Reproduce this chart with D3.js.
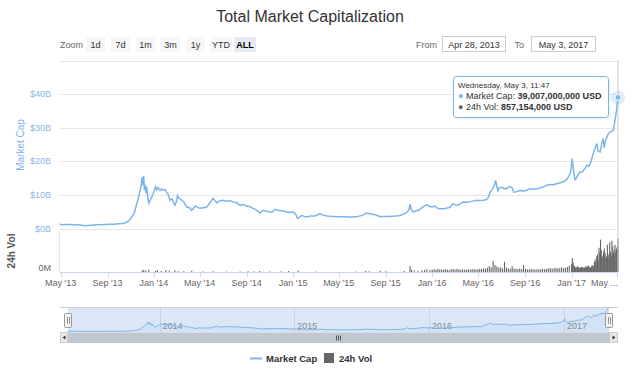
<!DOCTYPE html>
<html><head><meta charset="utf-8">
<script src="https://cdn.jsdelivr.net/npm/d3@7"></script>
<style>
body{margin:0;background:#fff;}
svg{display:block;font-family:"Liberation Sans",Arial,sans-serif;}
</style></head>
<body><svg id="c" width="640" height="368"></svg>
<script>
const title = "Total Market Capitalization";
const zoomButtons = ["1d","7d","1m","3m","1y","YTD","ALL"];
const yTickValues = [0,10,20,30,40];
const yTickLabels = ["$0B","$10B","$20B","$30B","$40B"];
const xTickLabels = ["May '13","Sep '13","Jan '14","May '14","Sep '14","Jan '15","May '15","Sep '15","Jan '16","May '16","Sep '16","Jan '17","May ..."];
const navYearLabels = ["2014","2015","2016","2017"];
const legendLabels = ["Market Cap","24h Vol"];

// Market cap (billions USD)
const capDates = ["2013-04-28","2013-05-06","2013-05-15","2013-05-25","2013-06-05","2013-06-15","2013-06-25","2013-07-04","2013-07-12","2013-07-22","2013-08-01","2013-08-12","2013-08-25","2013-09-05","2013-09-21","2013-10-01","2013-10-12","2013-10-20","2013-10-28","2013-11-04","2013-11-10","2013-11-17","2013-11-21","2013-11-25","2013-11-29","2013-12-01","2013-12-03","2013-12-05","2013-12-07","2013-12-09","2013-12-11","2013-12-13","2013-12-16","2013-12-19","2013-12-22","2013-12-26","2013-12-30","2014-01-05","2014-01-08","2014-01-12","2014-01-17","2014-01-21","2014-01-25","2014-01-30","2014-02-03","2014-02-07","2014-02-12","2014-02-17","2014-02-21","2014-02-25","2014-03-01","2014-03-04","2014-03-08","2014-03-15","2014-03-21","2014-03-28","2014-04-04","2014-04-10","2014-04-15","2014-04-19","2014-04-25","2014-05-02","2014-05-10","2014-05-19","2014-05-27","2014-06-05","2014-06-10","2014-06-15","2014-06-22","2014-07-01","2014-07-10","2014-07-18","2014-07-27","2014-08-05","2014-08-15","2014-08-22","2014-09-01","2014-09-10","2014-09-18","2014-09-25","2014-10-06","2014-10-14","2014-10-22","2014-11-02","2014-11-08","2014-11-15","2014-11-22","2014-12-06","2014-12-15","2014-12-22","2015-01-01","2015-01-08","2015-01-13","2015-01-18","2015-01-24","2015-01-30","2015-02-06","2015-02-15","2015-02-28","2015-03-06","2015-03-13","2015-03-22","2015-04-01","2015-04-16","2015-05-01","2015-05-15","2015-06-01","2015-06-07","2015-06-20","2015-07-01","2015-07-13","2015-07-25","2015-08-05","2015-08-18","2015-08-25","2015-09-10","2015-09-25","2015-10-05","2015-10-17","2015-10-26","2015-11-01","2015-11-04","2015-11-08","2015-11-12","2015-11-20","2015-11-28","2015-12-05","2015-12-10","2015-12-18","2015-12-26","2016-01-03","2016-01-09","2016-01-15","2016-01-22","2016-02-01","2016-02-10","2016-02-18","2016-02-25","2016-03-05","2016-03-12","2016-03-22","2016-04-01","2016-04-12","2016-04-27","2016-05-05","2016-05-15","2016-05-23","2016-05-28","2016-06-01","2016-06-08","2016-06-13","2016-06-16","2016-06-19","2016-06-22","2016-06-25","2016-07-02","2016-07-08","2016-07-15","2016-07-24","2016-07-30","2016-08-02","2016-08-08","2016-08-19","2016-08-28","2016-09-05","2016-09-14","2016-09-25","2016-10-05","2016-10-10","2016-10-20","2016-10-28","2016-11-06","2016-11-15","2016-11-25","2016-12-05","2016-12-12","2016-12-19","2016-12-25","2016-12-30","2017-01-03","2017-01-06","2017-01-10","2017-01-13","2017-01-18","2017-01-23","2017-01-30","2017-02-05","2017-02-10","2017-02-15","2017-02-20","2017-02-27","2017-03-03","2017-03-08","2017-03-12","2017-03-17","2017-03-20","2017-03-25","2017-03-28","2017-04-01","2017-04-08","2017-04-14","2017-04-21","2017-04-25","2017-04-29","2017-05-03"];
const capValues = [1.3,1.1,1.2,1.2,1.1,1.1,1.0,0.8,0.9,1.0,1.1,1.1,1.2,1.3,1.3,1.4,1.5,1.8,2.4,3.5,4.5,7.5,9.0,11.0,13.5,15.3,12.8,15.6,11.5,13.0,10.5,12.5,9.0,7.5,8.5,9.3,10.5,12.5,11.5,12.2,11.3,11.8,11.4,11.6,10.8,10.2,8.4,8.8,7.8,6.9,8.0,9.8,9.0,8.4,7.8,6.4,6.2,5.4,6.0,6.7,6.3,6.0,6.2,6.3,7.5,9.0,8.3,7.6,8.2,8.4,8.1,8.3,7.9,7.8,6.9,7.1,6.7,6.5,6.0,5.6,4.6,5.4,5.1,4.9,5.0,5.7,5.4,5.2,4.9,4.8,4.9,4.3,3.0,3.3,3.9,3.6,3.4,3.7,3.7,4.1,4.4,3.9,3.7,3.6,3.5,3.5,3.4,3.4,3.6,3.9,4.6,4.3,4.1,3.5,3.6,3.6,3.7,3.8,4.2,4.8,5.4,7.2,5.5,4.9,5.3,5.5,6.2,6.6,7.1,6.5,6.5,6.7,6.0,5.9,5.9,6.1,6.4,7.4,6.9,7.1,7.9,7.8,8.0,8.4,8.3,8.4,8.6,9.4,10.8,11.8,13.0,14.3,12.5,11.2,12.0,12.3,11.8,12.0,12.5,12.0,10.8,10.9,11.3,11.2,11.4,11.8,11.7,11.9,12.1,12.4,12.9,13.1,13.0,13.4,13.7,14.0,14.5,15.5,17.0,20.8,17.5,14.5,14.8,16.0,16.8,16.9,17.8,18.8,18.5,19.5,22.3,23.5,25.3,23.0,22.8,24.5,26.8,24.0,26.5,28.3,28.8,29.3,32.2,35.0,39.0];

// 24h volume (millions USD), sparse early period
const volDatesEarly = ["2013-12-01","2013-12-05","2013-12-10","2013-12-18","2014-01-05","2014-01-10","2014-01-20","2014-02-01","2014-02-10","2014-02-25","2014-03-05","2014-03-20","2014-04-10","2014-05-10","2014-06-05","2014-07-10","2014-08-15","2014-09-05","2014-09-20","2014-10-05","2014-11-01","2014-12-01","2014-12-20","2015-01-14","2015-03-01","2015-06-15","2015-07-10","2015-07-20","2015-08-18","2015-09-01","2015-10-20","2015-11-04","2015-11-08","2015-11-15","2015-11-25","2015-12-05","2015-12-12","2015-12-18","2015-12-26"];
const volValuesEarly = [40,55,35,60,30,45,25,50,35,40,25,20,30,15,20,12,15,20,15,25,15,20,25,35,15,15,25,20,30,20,25,150,60,40,30,45,55,70,50];
// 2016, one bar every 5 days from Jan 1 2016
const vol2016Start = "2016-01-01";
const vol2016Values = [60,70,55,80,65,60, 55,70,60,50,65,75, 60,80,70,55,65,60, 55,70,60,65,75,60, 70,80,75,90,85,110, 150,120,280,180,140,110, 120,90,260,110,95,80, 150,90,80,75,85,70, 180,80,70,65,75,70, 60,70,65,75,80,70, 80,90,100,85,95,110, 90,100,120,95,110,130,160];
// 2017, one bar every 2 days from Jan 1 2017
const vol2017Start = "2017-01-01";
const vol2017Values = [200,360,250,180,140,120,110,130,150,120,110,100,120,130,110,125, 100,110,130,150,120,140,170,130,120,110,140,180,160,150, 260,320,250,400,450,300,620,500,830,560,420,380,520,600,480, 350,400,700,450,380,760,520,420,800,650,480,560,700,520,600, 650,857];

const parse = d3.utcParse("%Y-%m-%d");
const cap = capDates.map((d,i)=>({date:parse(d), v:capValues[i]}));
const vol = [];
volDatesEarly.forEach((d,i)=>vol.push({date:parse(d), v:volValuesEarly[i]}));
vol2016Values.forEach((v,i)=>vol.push({date:d3.utcDay.offset(parse(vol2016Start), i*5), v}));
vol2017Values.forEach((v,i)=>vol.push({date:d3.utcDay.offset(parse(vol2017Start), i*2), v}));

const svg = d3.select("#c");
const BLUE = "#7cb5ec";
const L = 59.5, R = 618;
const x = d3.scaleUtc().domain([parse("2013-04-28"), parse("2017-05-03")]).range([L, R]);
const y = d3.scaleLinear().domain([0,50]).range([228.5, 60.5]);
const yv = d3.scaleLinear().domain([0,1050]).range([272, 231]);

// title
svg.append("text").attr("x",310).attr("y",22).attr("text-anchor","middle")
  .attr("font-size",16).attr("fill","#333").text(title);

// range selector
svg.append("text").attr("x",60).attr("y",48).attr("font-size",9).attr("fill","#666").text("Zoom");
const btnX = [86,111,136,161,186,210,234];
const btnW = [19,19,19,19,19,22,22];
zoomButtons.forEach((b,i)=>{
  const g = svg.append("g");
  const sel = b==="ALL";
  g.append("rect").attr("x",btnX[i]).attr("y",37).attr("width",btnW[i]).attr("height",15)
    .attr("fill", sel ? "#e6ebf5" : "#f7f7f7");
  g.append("text").attr("x",btnX[i]+btnW[i]/2).attr("y",48).attr("text-anchor","middle")
    .attr("font-size",9).attr("fill", sel ? "#000" : "#333").attr("font-weight", sel?"bold":"normal").text(b);
});
svg.append("text").attr("x",437).attr("y",48).attr("text-anchor","end").attr("font-size",9).attr("fill","#666").text("From");
svg.append("rect").attr("x",442.5).attr("y",36.5).attr("width",63).attr("height",15).attr("fill","#fff").attr("stroke","#ccc");
svg.append("text").attr("x",474).attr("y",48).attr("text-anchor","middle").attr("font-size",9).attr("fill","#333").text("Apr 28, 2013");
svg.append("text").attr("x",524).attr("y",48).attr("text-anchor","end").attr("font-size",9).attr("fill","#666").text("To");
svg.append("rect").attr("x",531.5).attr("y",36.5).attr("width",64).attr("height",15).attr("fill","#fff").attr("stroke","#ccc");
svg.append("text").attr("x",563.5).attr("y",48).attr("text-anchor","middle").attr("font-size",9).attr("fill","#333").text("May 3, 2017");

// gridlines
const gridVals = [0,10,20,30,40,50];
svg.append("g").selectAll("line").data(gridVals).join("line")
  .attr("x1",L).attr("x2",R).attr("y1",d=>Math.round(y(d))+0.5).attr("y2",d=>Math.round(y(d))+0.5)
  .attr("stroke","#e6e6e6");
// y labels
svg.append("g").selectAll("text").data(yTickValues).join("text")
  .attr("x",51).attr("y",d=>y(d)+3).attr("text-anchor","end").attr("font-size",9).attr("fill","#8cb6e8")
  .text((d,i)=>yTickLabels[i]);
svg.append("text").attr("transform","translate(24,145) rotate(-90)").attr("text-anchor","middle")
  .attr("font-size",10).attr("fill",BLUE).text("Market Cap");

// volume pane
svg.append("line").attr("x1",L).attr("x2",L).attr("y1",231).attr("y2",272).attr("stroke","#e6e6e6");
svg.append("text").attr("transform","translate(15,251) rotate(-90)").attr("text-anchor","middle")
  .attr("font-size",10).attr("font-weight","bold").attr("fill","#555").text("24h Vol");
svg.append("text").attr("x",51).attr("y",271).attr("text-anchor","end").attr("font-size",9).attr("fill","#666").text("0M");

svg.append("g").selectAll("rect").data(vol).join("rect")
  .attr("x",d=>x(d.date)-0.5).attr("width",1.1)
  .attr("y",d=>yv(d.v)).attr("height",d=>yv(0)-yv(d.v))
  .attr("fill","#666");

// x axis
const tickDates = d3.utcMonth.every(4).range(parse("2013-05-01"), parse("2017-05-02"));
svg.append("line").attr("x1",L).attr("x2",R).attr("y1",272.5).attr("y2",272.5).attr("stroke","#ccd6eb");
svg.append("g").selectAll("line").data(tickDates).join("line")
  .attr("x1",d=>Math.round(x(d))+0.5).attr("x2",d=>Math.round(x(d))+0.5).attr("y1",272).attr("y2",277)
  .attr("stroke","#ccd6eb");
svg.append("g").selectAll("text").data(tickDates).join("text")
  .attr("x",(d,i)=> i===tickDates.length-1 ? 618 : x(d))
  .attr("text-anchor",(d,i)=> i===tickDates.length-1 ? "end" : "middle")
  .attr("y",286).attr("font-size",9).attr("fill","#666").text((d,i)=>xTickLabels[i]);

// crosshair
svg.append("line").attr("x1",618).attr("x2",618).attr("y1",60).attr("y2",272).attr("stroke","#cccccc");

// market cap line
const line = d3.line().x(d=>x(d.date)).y(d=>y(d.v));
svg.append("path").datum(cap).attr("d",line).attr("fill","none").attr("stroke",BLUE).attr("stroke-width",1.5);

// hover marker
const last = cap[cap.length-1];
svg.append("circle").attr("cx",x(last.date)).attr("cy",y(last.v)).attr("r",7).attr("fill",BLUE).attr("opacity",0.25);
svg.append("circle").attr("cx",x(last.date)).attr("cy",y(last.v)).attr("r",3).attr("fill",BLUE).attr("stroke","#fff").attr("stroke-width",1);

// tooltip
const tt = svg.append("g");
tt.append("rect").attr("x",454.5).attr("y",77.5).attr("width",155).attr("height",41).attr("rx",3)
  .attr("fill","#000").attr("opacity",0.06).attr("transform","translate(1,1)");
tt.append("rect").attr("x",453.5).attr("y",76.5).attr("width",155).attr("height",41).attr("rx",3)
  .attr("fill","rgba(255,255,255,0.95)").attr("stroke",BLUE);
tt.append("text").attr("x",458).attr("y",88).attr("font-size",8).attr("fill","#333").text("Wednesday, May 3, 11:47");
const tt1 = tt.append("text").attr("x",458).attr("y",99).attr("font-size",9).attr("fill","#333");
tt1.append("tspan").attr("fill",BLUE).text("● ");
tt1.append("tspan").text("Market Cap: ");
tt1.append("tspan").attr("font-weight","bold").text("39,007,000,000 USD");
const tt2 = tt.append("text").attr("x",458).attr("y",110).attr("font-size",9).attr("fill","#333");
tt2.append("tspan").attr("fill","#666").text("● ");
tt2.append("tspan").text("24h Vol: ");
tt2.append("tspan").attr("font-weight","bold").text("857,154,000 USD");

// navigator
const NL = 68, NR = 609, NT = 307, NB = 332;
const nx = d3.scaleUtc().domain(x.domain()).range([NL, NR]);
const ny = d3.scaleLinear().domain([0, 39]).range([NB, NT]);
svg.append("rect").attr("x",NL).attr("y",NT).attr("width",NR-NL).attr("height",NB-NT).attr("fill","#dbe7f7");
const years = [parse("2014-01-01"),parse("2015-01-01"),parse("2016-01-01"),parse("2017-01-01")];
svg.append("g").selectAll("line").data(years).join("line")
  .attr("x1",d=>Math.round(nx(d))+0.5).attr("x2",d=>Math.round(nx(d))+0.5).attr("y1",NT).attr("y2",NB)
  .attr("stroke","#c8d3e3");
svg.append("g").selectAll("text").data(years).join("text")
  .attr("x",d=>nx(d)+3).attr("y",329).attr("font-size",9).attr("fill","#888").text((d,i)=>navYearLabels[i]);
const narea = d3.area().x(d=>nx(d.date)).y0(NB).y1(d=>ny(d.v));
svg.append("path").datum(cap).attr("d",narea).attr("fill",BLUE).attr("opacity",0.08);
svg.append("path").datum(cap).attr("d",d3.line().x(d=>nx(d.date)).y(d=>ny(d.v)))
  .attr("fill","none").attr("stroke",BLUE).attr("stroke-width",1);
svg.append("line").attr("x1",60).attr("x2",618).attr("y1",NT+0.5).attr("y2",NT+0.5).attr("stroke","#cccccc");
// handles
[NL, NR].forEach(hx=>{
  svg.append("rect").attr("x",hx-3.5).attr("y",313.5).attr("width",7).attr("height",14).attr("rx",1)
    .attr("fill","#f2f2f2").attr("stroke","#999");
  svg.append("line").attr("x1",hx-0.5).attr("x2",hx-0.5).attr("y1",317).attr("y2",324).attr("stroke","#999");
  svg.append("line").attr("x1",hx+1.5).attr("x2",hx+1.5).attr("y1",317).attr("y2",324).attr("stroke","#999");
});
// scrollbar
svg.append("rect").attr("x",60.5).attr("y",332.5).attr("width",557).attr("height",10).attr("fill","#f2f2f2").attr("stroke","#ddd");
svg.append("rect").attr("x",NL).attr("y",333).attr("width",NR-NL).attr("height",10).attr("fill","#bfc8d1");
[0,2,4].forEach(o=>svg.append("line").attr("x1",336.5+o).attr("x2",336.5+o).attr("y1",335.5).attr("y2",340.5).attr("stroke","#555"));
svg.append("rect").attr("x",60.5).attr("y",332.5).attr("width",7).attr("height",10).attr("fill","#ebe7e8").attr("stroke","#ccc");
svg.append("rect").attr("x",609.5).attr("y",332.5).attr("width",8).attr("height",10).attr("fill","#ebe7e8").attr("stroke","#ccc");
svg.append("path").attr("d","M65.5,335.5 L62.5,337.5 L65.5,339.5 Z").attr("fill","#333");
svg.append("path").attr("d","M612.5,335.5 L615.5,337.5 L612.5,339.5 Z").attr("fill","#333");

// legend
svg.append("line").attr("x1",250).attr("x2",262).attr("y1",358.5).attr("y2",358.5).attr("stroke",BLUE).attr("stroke-width",2);
svg.append("text").attr("x",266).attr("y",362).attr("font-size",9.5).attr("font-weight","bold").attr("fill","#333").text(legendLabels[0]);
svg.append("rect").attr("x",324).attr("y",353).attr("width",10).attr("height",10).attr("fill","#666");
svg.append("text").attr("x",339).attr("y",362).attr("font-size",9.5).attr("font-weight","bold").attr("fill","#333").text(legendLabels[1]);
</script></body></html>
